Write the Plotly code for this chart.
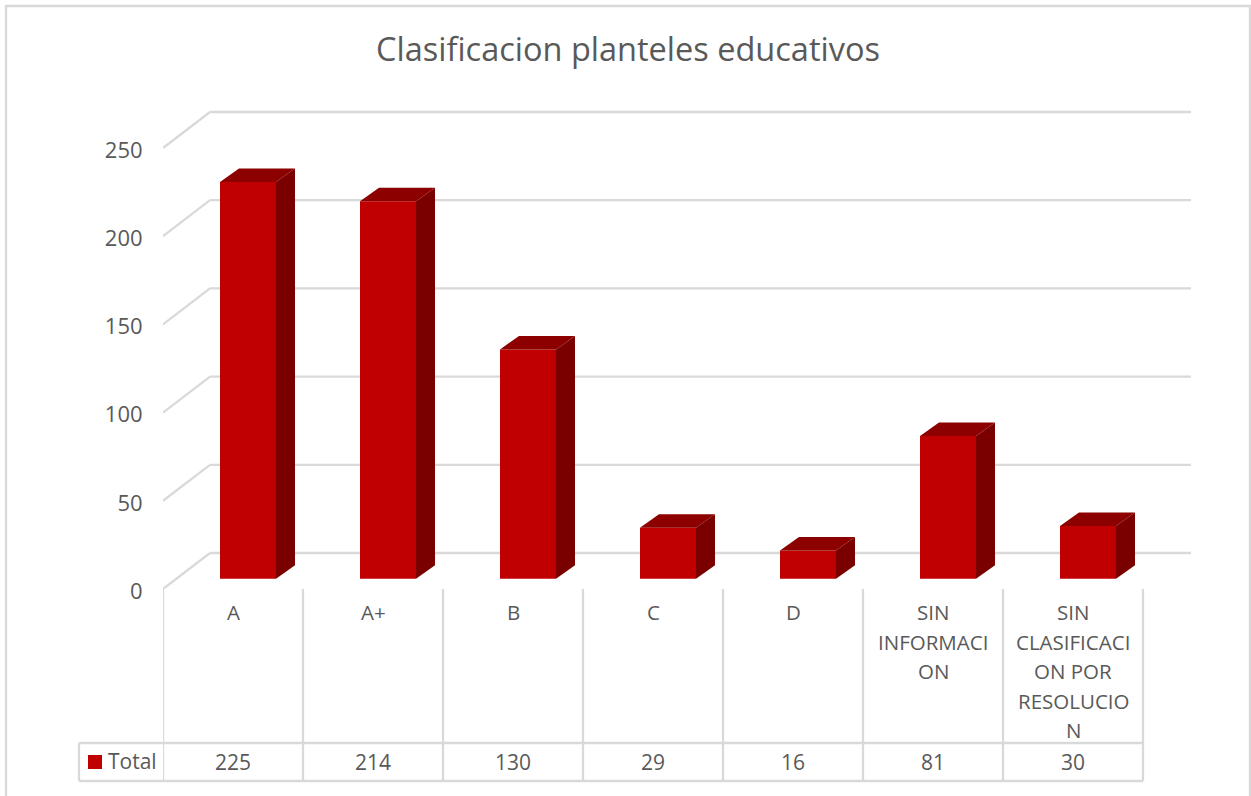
import plotly.graph_objects as go

TITLE = "Clasificacion planteles educativos"
CATEGORIES = ["A", "A+", "B", "C", "D", "SIN INFORMACION", "SIN CLASIFICACION POR RESOLUCION"]
CATEGORY_LINES = [["A"], ["A+"], ["B"], ["C"], ["D"],
                  ["SIN", "INFORMACI", "ON"],
                  ["SIN", "CLASIFICACI", "ON POR", "RESOLUCIO", "N"]]
VALUES = [225, 214, 130, 29, 16, 81, 30]
Y_TICKS = [0, 50, 100, 150, 200, 250]
SERIES = "Total"

W, H = 1251, 796
GRID = "#D9D9D9"
TEXT = "#595959"
FONT = "Open Sans"
FRONT, SIDE, TOP = "#C00000", "#7A0000", "#8C0000"

PX_Y = 1.764      # pixels per value unit
PX_X = 140.0      # pixels per category
AX_L, AX_R, AX_B, AX_T = 163, 1191, 589, 100
X_RANGE = [-0.5, -0.5 + (AX_R - AX_L) / PX_X]
Y_RANGE = [0, (AX_B - AX_T) / PX_Y]

# oblique projection of the 3-D look, expressed in data units
WALL_DX, WALL_DY = 47 / PX_X, 36 / PX_Y     # front plane -> back wall
BAR_LEFT, BAR_W = -13 / PX_X, 56 / PX_X     # bar front face relative to category
BAR_BASE = 10.2 / PX_Y                      # bar front face lift above front plane
DEPTH_DX, DEPTH_DY = 19 / PX_X, 13.5 / PX_Y # bar depth


def px(x):
    return x / W


def py(y):
    return 1 - y / H


fig = go.Figure()
POS = list(range(len(CATEGORIES)))

fig.add_trace(go.Bar(
    x=POS, y=VALUES, base=BAR_BASE, offset=BAR_LEFT, width=BAR_W,
    marker=dict(color=FRONT, line=dict(width=0)), name=SERIES, showlegend=False,
))

for i, v in zip(POS, VALUES):
    x0 = i + BAR_LEFT
    x1 = x0 + BAR_W
    y0 = BAR_BASE
    y1 = BAR_BASE + v
    fig.add_trace(go.Scatter(
        x=[x1, x1 + DEPTH_DX, x1 + DEPTH_DX, x1, x1],
        y=[y0, y0 + DEPTH_DY, y1 + DEPTH_DY, y1, y0],
        mode="lines", fill="toself", fillcolor=SIDE, line=dict(width=0),
        hoverinfo="skip", showlegend=False,
    ))
    fig.add_trace(go.Scatter(
        x=[x0, x1, x1 + DEPTH_DX, x0 + DEPTH_DX, x0],
        y=[y1, y1, y1 + DEPTH_DY, y1 + DEPTH_DY, y1],
        mode="lines", fill="toself", fillcolor=TOP, line=dict(width=0),
        hoverinfo="skip", showlegend=False,
    ))

shapes = []
line = dict(color=GRID, width=2.3)

# chart frame
shapes.append(dict(type="rect", xref="paper", yref="paper", x0=px(6), x1=px(1250),
                   y0=py(812), y1=py(6), line=line, layer="below"))

# gridlines: diagonal on the side wall, then across the back wall
for t in Y_TICKS:
    shapes.append(dict(type="line", xref="x", yref="y", x0=X_RANGE[0], y0=t,
                       x1=X_RANGE[0] + WALL_DX, y1=t + WALL_DY, line=line, layer="below"))
    shapes.append(dict(type="line", xref="x", yref="y", x0=X_RANGE[0] + WALL_DX, y0=t + WALL_DY,
                       x1=X_RANGE[1], y1=t + WALL_DY, line=line, layer="below"))

# data table grid
TBL_TOP, TBL_BOT, TBL_LEFT = 743, 781, 79
for k in range(len(CATEGORIES) + 1):
    shapes.append(dict(type="line", xref="x", yref="paper", x0=k - 0.5, x1=k - 0.5,
                       y0=py(AX_B), y1=py(TBL_BOT), line=line, layer="below"))
x_right = px(AX_L + PX_X * len(CATEGORIES))
for yy in (TBL_TOP, TBL_BOT):
    shapes.append(dict(type="line", xref="paper", yref="paper", x0=px(TBL_LEFT), x1=x_right,
                       y0=py(yy), y1=py(yy), line=line, layer="below"))
shapes.append(dict(type="line", xref="paper", yref="paper", x0=px(TBL_LEFT), x1=px(TBL_LEFT),
                   y0=py(TBL_TOP), y1=py(TBL_BOT), line=line, layer="below"))
# legend key
shapes.append(dict(type="rect", xref="paper", yref="paper", x0=px(88), x1=px(102),
                   y0=py(769), y1=py(755), fillcolor=FRONT, line=dict(width=0)))

annotations = []
LABEL_Y0, LABEL_STEP = 612, 29.5
for i, lines in enumerate(CATEGORY_LINES):
    for j, txt in enumerate(lines):
        annotations.append(dict(x=i, xref="x", y=py(LABEL_Y0 + j * LABEL_STEP), yref="paper",
                                text=txt, showarrow=False, xanchor="center", yanchor="middle",
                                font=dict(family=FONT, size=20.5, color=TEXT)))
for i, v in enumerate(VALUES):
    annotations.append(dict(x=i, xref="x", y=py(762), yref="paper", text=str(v), showarrow=False,
                            xanchor="center", yanchor="middle",
                            font=dict(family=FONT, size=21, color=TEXT)))
annotations.append(dict(x=px(105.5), xref="paper", y=py(761), yref="paper", text=SERIES,
                        showarrow=False, xanchor="left", yanchor="middle",
                        font=dict(family=FONT, size=21, color=TEXT)))

fig.update_layout(
    width=W, height=H, autosize=False,
    margin=dict(l=0, r=0, t=0, b=0, pad=0, autoexpand=False),
    paper_bgcolor="white", plot_bgcolor="rgba(0,0,0,0)",
    showlegend=False, hovermode=False,
    title=dict(text=TITLE, x=628 / W, xanchor="center", y=py(50), yanchor="middle",
               font=dict(family=FONT, size=32.5, color=TEXT)),
    xaxis=dict(domain=[px(AX_L), px(AX_R)], range=X_RANGE, autorange=False,
               tickmode="array", tickvals=POS, ticktext=CATEGORIES,
               showgrid=False, zeroline=False, showline=False, showticklabels=False, ticks=""),
    yaxis=dict(domain=[py(AX_B), py(AX_T)], range=Y_RANGE, autorange=False,
               tickmode="array", tickvals=Y_TICKS, ticktext=[str(t) for t in Y_TICKS],
               ticks="outside", ticklen=15, tickcolor="rgba(0,0,0,0)", ticklabelshift=2,
               tickfont=dict(family=FONT, size=22, color=TEXT),
               showgrid=False, zeroline=False, showline=False),
    shapes=shapes, annotations=annotations,
)

fig.write_html("out.html", config={"displayModeBar": False},
               post_script="document.body.style.margin='0';document.documentElement.style.overflow='hidden';")
